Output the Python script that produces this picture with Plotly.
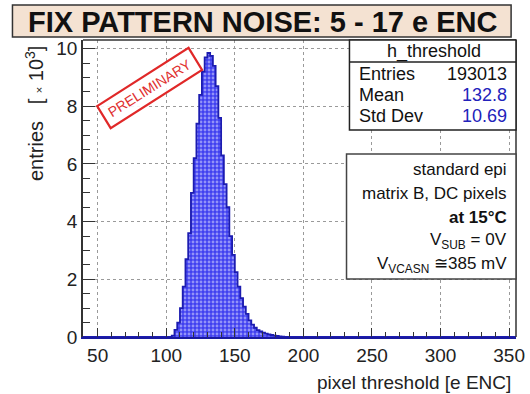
import plotly.graph_objects as go
import math

# ---------------- data (in units of 10^3 entries) ----------------
bin_start = 104.0
bin_width = 2.0
counts_k = [0.05, 0.25, 0.5, 1.0, 1.75, 2.7, 3.6, 5.0, 6.2, 7.4,
            8.4, 9.2, 9.7, 9.85, 9.75, 9.4, 8.7, 7.6, 6.3, 5.3,
            4.5, 3.5, 2.85, 2.25, 1.75, 1.35, 1.05, 0.8, 0.58, 0.43,
            0.32, 0.24, 0.19, 0.15, 0.12, 0.09, 0.07, 0.05, 0.035, 0.02,
            0.01, 0.005]
x_range = [39.3, 355.0]
y_range = [0.0, 10.3]
x_ticks = [50, 100, 150, 200, 250, 300, 350]
y_ticks = [0, 2, 4, 6, 8, 10]

title_text = "FIX PATTERN NOISE: 5 - 17 e ENC"
stats_name = "h_threshold"
stats_labels = ["Entries", "Mean", "Std Dev"]
stats_values = ["193013", "132.8", "10.69"]
info_lines = ["standard epi", "matrix B, DC pixels", "<b>at 15°C</b>",
              "V<sub>SUB</sub> = 0V", "V<sub>VCASN</sub> \u2245385 mV"]

W, H = 530, 394
L, R, T, B = 83, 5, 40, 57
PW, PH = W - L - R, H - T - B

def X(px):
    return (px - L) / PW

def Y(py):
    return (H - B - py) / PH

def DX(px):
    return x_range[0] + (px - L) / PW * (x_range[1] - x_range[0])

def DY(py):
    return y_range[0] + (H - B - py) / PH * (y_range[1] - y_range[0])

# step outline from bins
n = len(counts_k)
edges = [bin_start + i * bin_width for i in range(n)]
xs = [x_range[0], bin_start] + edges + [bin_start + n * bin_width, x_range[1]]
ys = [0, 0] + counts_k + [0, 0]

FONT = "Liberation Sans, Arial, Helvetica, sans-serif"

fig = go.Figure()
fig.add_trace(go.Scatter(
    x=xs, y=ys, mode="lines", line=dict(shape="hv", color="#1c1cb0", width=1.8),
    fill="tozeroy", fillcolor="#4646f2",
    fillpattern=dict(shape=".", bgcolor="#4040f0", fgcolor="#e6e6ff", size=4, solidity=0.4),
    hoverinfo="skip", showlegend=False))

shapes = []
annotations = []

# title box
shapes.append(dict(type="rect", xref="paper", yref="paper", x0=X(11), x1=X(520), y0=Y(37), y1=Y(5),
                   fillcolor="#f4e2d2", line=dict(color="#333333", width=1.5), layer="above"))
annotations.append(dict(xref="paper", yref="paper", x=X(267), y=Y(22), text="<b>" + title_text + "</b>",
                        showarrow=False, xanchor="center", yanchor="middle",
                        font=dict(family=FONT, size=29, color="#111111")))

# frame top & right
shapes.append(dict(type="line", xref="paper", yref="paper", x0=0, x1=1, y0=1, y1=1,
                   line=dict(color="#333333", width=1.5), layer="above"))
shapes.append(dict(type="line", xref="paper", yref="paper", x0=1, x1=1, y0=0, y1=1,
                   line=dict(color="#333333", width=1.5), layer="above"))

# stats box
shapes.append(dict(type="rect", xref="paper", yref="paper", x0=X(355), x1=X(525), y0=Y(130), y1=Y(40),
                   fillcolor="white", line=dict(color="#222222", width=1.5), layer="above"))
shapes.append(dict(type="line", xref="paper", yref="paper", x0=X(355), x1=X(525), y0=Y(62), y1=Y(62),
                   line=dict(color="#222222", width=1.5), layer="above"))
annotations.append(dict(xref="paper", yref="paper", x=X(441), y=Y(51), text=stats_name,
                        showarrow=False, xanchor="center", yanchor="middle",
                        font=dict(family=FONT, size=18, color="#111111")))
row_y = [74, 95, 116]
for lab, val, ry in zip(stats_labels, stats_values, row_y):
    annotations.append(dict(xref="paper", yref="paper", x=X(363), y=Y(ry), text=lab,
                            showarrow=False, xanchor="left", yanchor="middle",
                            font=dict(family=FONT, size=18, color="#111111")))
    annotations.append(dict(xref="paper", yref="paper", x=X(518), y=Y(ry), text=val,
                            showarrow=False, xanchor="right", yanchor="middle",
                            font=dict(family=FONT, size=18,
                                      color="#111111" if lab == "Entries" else "#2222bb")))

# info box
shapes.append(dict(type="rect", xref="paper", yref="paper", x0=X(352), x1=X(525), y0=Y(279), y1=Y(154),
                   fillcolor="white", line=dict(color="#444444", width=1.5), layer="above"))
info_y = [169, 193, 218, 241, 265]
for t, iy in zip(info_lines, info_y):
    annotations.append(dict(xref="paper", yref="paper", x=X(518), y=Y(iy), text=t,
                            showarrow=False, xanchor="right", yanchor="middle",
                            font=dict(family=FONT, size=17, color="#111111")))

# PRELIMINARY stamp (rotated rectangle)
cx, cy = 151, 88
ang = math.radians(32)
hl, hw = 55, 13
ux, uy = math.cos(ang), -math.sin(ang)
vx, vy = math.sin(ang), math.cos(ang)
corners = []
for a, b in [(-1, -1), (1, -1), (1, 1), (-1, 1)]:
    px = cx + a * hl * ux + b * hw * vx
    py = cy + a * hl * uy + b * hw * vy
    corners.append((DX(px), DY(py)))
path = "M " + " L ".join(f"{p[0]:.3f},{p[1]:.4f}" for p in corners) + " Z"
shapes.append(dict(type="path", xref="x", yref="y", path=path, fillcolor="rgba(255,255,255,0.9)",
                   line=dict(color="#e02828", width=2.2), layer="above"))
annotations.append(dict(xref="paper", yref="paper", x=X(cx), y=Y(cy), text="PRELIMINARY",
                        textangle=-32, showarrow=False, xanchor="center", yanchor="middle",
                        font=dict(family=FONT, size=14, color="#e03030")))

# axis titles
annotations.append(dict(xref="paper", yref="paper", x=X(522), y=Y(382), text="pixel threshold [e ENC]",
                        showarrow=False, xanchor="right", yanchor="middle",
                        font=dict(family=FONT, size=19, color="#222222")))
annotations.append(dict(xref="paper", yref="paper", x=X(33), y=Y(114),
                        text="entries   [ <span style='font-size:11px'>\u00d7</span> 10<sup>3</sup>]",
                        textangle=-90, showarrow=False, xanchor="center", yanchor="middle",
                        font=dict(family=FONT, size=20, color="#222222")))

fig.update_layout(
    width=W, height=H, margin=dict(l=L, r=R, t=T, b=B),
    paper_bgcolor="white", plot_bgcolor="white",
    shapes=shapes, annotations=annotations, showlegend=False,
    font=dict(family=FONT, color="#222222"),
    xaxis=dict(range=x_range, tickmode="array", tickvals=x_ticks, ticks="inside", ticklen=9,
               tickcolor="#333333", tickwidth=1, showline=True, linecolor="#1a1aa0", linewidth=2,
               showgrid=True, gridcolor="#9a9a9a", griddash="dot", gridwidth=1, zeroline=False,
               ticklabeloverflow="allow",
               tickfont=dict(family=FONT, size=19, color="#222222"),
               minor=dict(dtick=10, tick0=0, ticks="inside", ticklen=5, tickcolor="#333333", showgrid=False)),
    yaxis=dict(range=y_range, tickmode="array", tickvals=y_ticks, ticks="inside", ticklen=12,
               tickcolor="#333333", tickwidth=1, showline=True, linecolor="#333333", linewidth=1.5,
               showgrid=True, gridcolor="#9a9a9a", griddash="dot", gridwidth=1, zeroline=False,
               tickfont=dict(family=FONT, size=19, color="#222222"),
               minor=dict(dtick=0.5, tick0=0, ticks="inside", ticklen=7, tickcolor="#333333", showgrid=False)),
)

fig.write_html("out.html", config={"displayModeBar": False},
               post_script="document.body.style.margin='0';document.body.style.padding='0';")
